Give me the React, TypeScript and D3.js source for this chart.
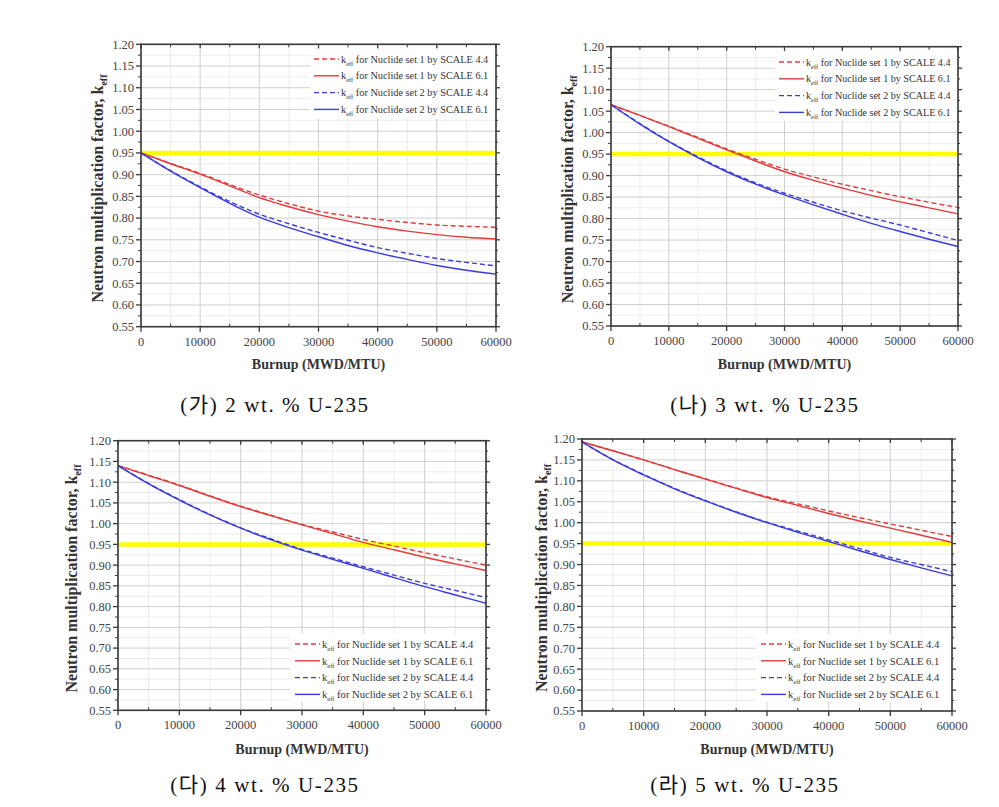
import React from "react";
import * as d3 from "d3";

const burnup = [0, 5000, 10000, 15000, 20000, 25000, 30000, 35000, 40000, 45000, 50000, 55000, 60000];
const xTicks = [0, 10000, 20000, 30000, 40000, 50000, 60000];
const yTicks = [0.55, 0.6, 0.65, 0.7, 0.75, 0.8, 0.85, 0.9, 0.95, 1.0, 1.05, 1.1, 1.15, 1.2];
const limitK = 0.95;

const legendLabels = [
  { set: "1", code: "4.4" },
  { set: "1", code: "6.1" },
  { set: "2", code: "4.4" },
  { set: "2", code: "6.1" },
];

// 2 wt.% U-235
const p1Set1S44 = [0.950, 0.926, 0.903, 0.877, 0.853, 0.833, 0.816, 0.805, 0.797, 0.790, 0.784, 0.781, 0.779];
const p1Set1S61 = [0.950, 0.925, 0.901, 0.874, 0.847, 0.826, 0.808, 0.793, 0.780, 0.770, 0.762, 0.756, 0.752];
const p1Set2S44 = [0.950, 0.909, 0.872, 0.838, 0.809, 0.787, 0.767, 0.749, 0.732, 0.719, 0.707, 0.698, 0.690];
const p1Set2S61 = [0.950, 0.908, 0.870, 0.834, 0.802, 0.778, 0.757, 0.737, 0.720, 0.705, 0.691, 0.680, 0.671];
// 3 wt.% U-235
const p2Set1S44 = [1.065, 1.040, 1.015, 0.989, 0.962, 0.938, 0.915, 0.897, 0.880, 0.865, 0.851, 0.838, 0.826];
const p2Set1S61 = [1.065, 1.040, 1.014, 0.987, 0.960, 0.934, 0.909, 0.889, 0.871, 0.854, 0.839, 0.825, 0.811];
const p2Set2S44 = [1.065, 1.021, 0.980, 0.944, 0.911, 0.883, 0.859, 0.838, 0.818, 0.801, 0.785, 0.767, 0.749];
const p2Set2S61 = [1.065, 1.020, 0.979, 0.942, 0.909, 0.880, 0.855, 0.832, 0.810, 0.789, 0.770, 0.752, 0.735];
// 4 wt.% U-235
const p3Set1S44 = [1.140, 1.117, 1.093, 1.067, 1.042, 1.020, 0.998, 0.980, 0.962, 0.946, 0.930, 0.915, 0.900];
const p3Set1S61 = [1.140, 1.116, 1.092, 1.066, 1.041, 1.019, 0.997, 0.976, 0.955, 0.937, 0.919, 0.903, 0.887];
const p3Set2S44 = [1.140, 1.097, 1.058, 1.022, 0.990, 0.963, 0.938, 0.917, 0.896, 0.876, 0.856, 0.839, 0.822];
const p3Set2S61 = [1.140, 1.096, 1.057, 1.021, 0.989, 0.961, 0.936, 0.914, 0.892, 0.870, 0.848, 0.828, 0.808];
// 5 wt.% U-235
const p4Set1S44 = [1.193, 1.172, 1.150, 1.127, 1.105, 1.083, 1.062, 1.045, 1.028, 1.012, 0.997, 0.982, 0.967];
const p4Set1S61 = [1.193, 1.172, 1.150, 1.127, 1.104, 1.082, 1.060, 1.041, 1.022, 1.004, 0.987, 0.970, 0.953];
const p4Set2S44 = [1.193, 1.151, 1.115, 1.082, 1.053, 1.026, 1.001, 0.980, 0.959, 0.938, 0.917, 0.900, 0.883];
const p4Set2S61 = [1.193, 1.150, 1.114, 1.081, 1.052, 1.025, 1.000, 0.977, 0.955, 0.933, 0.912, 0.892, 0.873];

const captions = ["(가) 2 wt. % U-235", "(나) 3 wt. % U-235", "(다) 4 wt. % U-235", "(라) 5 wt. % U-235"];

const RED = "#e23b3b";
const BLUE = "#3b3bdc";
const SERIF = "'Liberation Serif', 'Times New Roman', serif";

type PanelCfg = {
  x0: number; x1: number; yT: number; yB: number;
  series: number[][];
  legend: { lx: number; ly: number; bx0: number; by0: number; by1: number; fs: number };
  yTitleX: number; xTitleY: number;
  caption: string; capX: number; capY: number;
};

const panels: PanelCfg[] = [
  {
    x0: 141, x1: 496, yT: 44.3, yB: 326.7,
    series: [p1Set1S44, p1Set1S61, p1Set2S44, p1Set2S61],
    legend: { lx: 314, ly: 59, bx0: 310, by0: 49, by1: 119, fs: 10.3 },
    yTitleX: 103, xTitleY: 369, caption: captions[0], capX: 275, capY: 412,
  },
  {
    x0: 611, x1: 958, yT: 46.7, yB: 326,
    series: [p2Set1S44, p2Set1S61, p2Set2S44, p2Set2S61],
    legend: { lx: 779, ly: 62, bx0: 775, by0: 52, by1: 121, fs: 10.1 },
    yTitleX: 573, xTitleY: 369, caption: captions[1], capX: 765, capY: 412,
  },
  {
    x0: 118, x1: 486, yT: 440.7, yB: 710.3,
    series: [p3Set1S44, p3Set1S61, p3Set2S44, p3Set2S61],
    legend: { lx: 295, ly: 644, bx0: 290, by0: 634, by1: 701, fs: 10.6 },
    yTitleX: 77, xTitleY: 754, caption: captions[2], capX: 265, capY: 792,
  },
  {
    x0: 582, x1: 952, yT: 439, yB: 711,
    series: [p4Set1S44, p4Set1S61, p4Set2S44, p4Set2S61],
    legend: { lx: 761, ly: 644, bx0: 756, by0: 634, by1: 702, fs: 10.6 },
    yTitleX: 547, xTitleY: 754, caption: captions[3], capX: 745, capY: 792,
  },
];

const styles = [
  { color: RED, dash: "5,3" },
  { color: RED, dash: undefined },
  { color: BLUE, dash: "5,3" },
  { color: BLUE, dash: undefined },
];

function Panel({ cfg }: { cfg: PanelCfg }) {
  const x = d3.scaleLinear().domain([0, 60000]).range([cfg.x0, cfg.x1]);
  const y = d3.scaleLinear().domain([0.55, 1.2]).range([cfg.yB, cfg.yT]);
  const minorX = d3.range(5000, 60000, 10000);
  const minorY = d3.range(0, 13).map((i) => 0.575 + i * 0.05);
  const line = d3
    .line<number>()
    .x((_, i) => x(burnup[i]))
    .y((d) => y(d))
    .curve(d3.curveMonotoneX);
  const lg = cfg.legend;
  const axisColor = "#3a3a3a";
  return (
    <g>
      {/* grid */}
      {minorY.map((v) => (
        <line key={"my" + v} x1={cfg.x0} x2={cfg.x1} y1={y(v)} y2={y(v)} stroke="#ececec" strokeWidth={1} />
      ))}
      {minorX.map((v) => (
        <line key={"mx" + v} x1={x(v)} x2={x(v)} y1={cfg.yT} y2={cfg.yB} stroke="#ececec" strokeWidth={1} />
      ))}
      {yTicks.map((v) => (
        <line key={"gy" + v} x1={cfg.x0} x2={cfg.x1} y1={y(v)} y2={y(v)} stroke="#cfcfcf" strokeWidth={1} />
      ))}
      {xTicks.map((v) => (
        <line key={"gx" + v} x1={x(v)} x2={x(v)} y1={cfg.yT} y2={cfg.yB} stroke="#cfcfcf" strokeWidth={1} />
      ))}
      {/* legend background */}
      <rect x={lg.bx0} y={lg.by0} width={cfg.x1 - lg.bx0 - 1} height={lg.by1 - lg.by0} fill="#fff" />
      {/* limit line */}
      <line x1={cfg.x0} x2={cfg.x1} y1={y(limitK)} y2={y(limitK)} stroke="#ffff00" strokeWidth={4.5} />
      {/* series */}
      {cfg.series.map((s, i) => (
        <path key={"s" + i} d={line(s) || ""} fill="none" stroke={styles[i].color} strokeWidth={1.4} strokeDasharray={styles[i].dash} />
      ))}
      {/* frame */}
      <rect x={cfg.x0} y={cfg.yT} width={cfg.x1 - cfg.x0} height={cfg.yB - cfg.yT} fill="none" stroke={axisColor} strokeWidth={1.6} />
      {/* ticks y */}
      {yTicks.map((v) => (
        <g key={"ty" + v}>
          <line x1={cfg.x0 - 5} x2={cfg.x0} y1={y(v)} y2={y(v)} stroke={axisColor} strokeWidth={1.3} />
          <line x1={cfg.x1} x2={cfg.x1 + 4} y1={y(v)} y2={y(v)} stroke={axisColor} strokeWidth={1.3} />
          <text x={cfg.x0 - 7} y={y(v)} dy="0.35em" textAnchor="end" fontFamily={SERIF} fontSize={12.5} fill="#444">
            {v.toFixed(2)}
          </text>
        </g>
      ))}
      {minorY.map((v) => (
        <g key={"tmy" + v}>
          <line x1={cfg.x0 - 3} x2={cfg.x0} y1={y(v)} y2={y(v)} stroke={axisColor} strokeWidth={1} />
          <line x1={cfg.x1} x2={cfg.x1 + 2} y1={y(v)} y2={y(v)} stroke={axisColor} strokeWidth={1} />
        </g>
      ))}
      {/* ticks x */}
      {xTicks.map((v) => (
        <g key={"tx" + v}>
          <line x1={x(v)} x2={x(v)} y1={cfg.yB} y2={cfg.yB + 5} stroke={axisColor} strokeWidth={1.3} />
          <line x1={x(v)} x2={x(v)} y1={cfg.yT} y2={cfg.yT + 4} stroke={axisColor} strokeWidth={1.3} />
          <text x={x(v)} y={cfg.yB + 19} textAnchor="middle" fontFamily={SERIF} fontSize={12.5} fill="#444">
            {v}
          </text>
        </g>
      ))}
      {minorX.map((v) => (
        <g key={"tmx" + v}>
          <line x1={x(v)} x2={x(v)} y1={cfg.yB - 3} y2={cfg.yB} stroke={axisColor} strokeWidth={1} />
          <line x1={x(v)} x2={x(v)} y1={cfg.yT} y2={cfg.yT + 3} stroke={axisColor} strokeWidth={1} />
        </g>
      ))}
      {/* legend */}
      {legendLabels.map((l, i) => {
        const ly = lg.ly + i * 16.8;
        return (
          <g key={"lg" + i}>
            <line x1={lg.lx} x2={lg.lx + 25} y1={ly} y2={ly} stroke={styles[i].color} strokeWidth={1.4} strokeDasharray={styles[i].dash} />
            <text x={lg.lx + 27} y={ly} dy="0.35em" fontFamily={SERIF} fontSize={lg.fs} fill="#333">
              k<tspan fontSize={6.5} dy={3}>eff</tspan>
              <tspan dy={-3}>{` for Nuclide set ${l.set} by SCALE ${l.code}`}</tspan>
            </text>
          </g>
        );
      })}
      {/* axis titles */}
      <text
        transform={`translate(${cfg.yTitleX},${(cfg.yT + cfg.yB) / 2 + 3}) rotate(-90)`}
        textAnchor="middle"
        fontFamily={SERIF}
        fontWeight="bold"
        fontSize={16}
        fill="#333"
      >
        Neutron multiplication factor, k<tspan fontSize={10} dy={4}>eff</tspan>
      </text>
      <text x={(cfg.x0 + cfg.x1) / 2} y={cfg.xTitleY} textAnchor="middle" fontFamily={SERIF} fontWeight="bold" fontSize={14} fill="#333">
        Burnup (MWD/MTU)
      </text>
      {/* caption */}
      <text x={cfg.capX} y={cfg.capY} textAnchor="middle" fontFamily={`${SERIF}, 'Noto Sans CJK KR'`} fontSize={21} letterSpacing={1.6} fill="#111">
        {cfg.caption}
      </text>
    </g>
  );
}

export default function App() {
  return (
    <svg width={999} height={807} style={{ position: "absolute", left: 0, top: 0, background: "#fff" }}>
      <rect width={999} height={807} fill="#fff" />
      {panels.map((p, i) => (
        <Panel key={i} cfg={p} />
      ))}
    </svg>
  );
}
